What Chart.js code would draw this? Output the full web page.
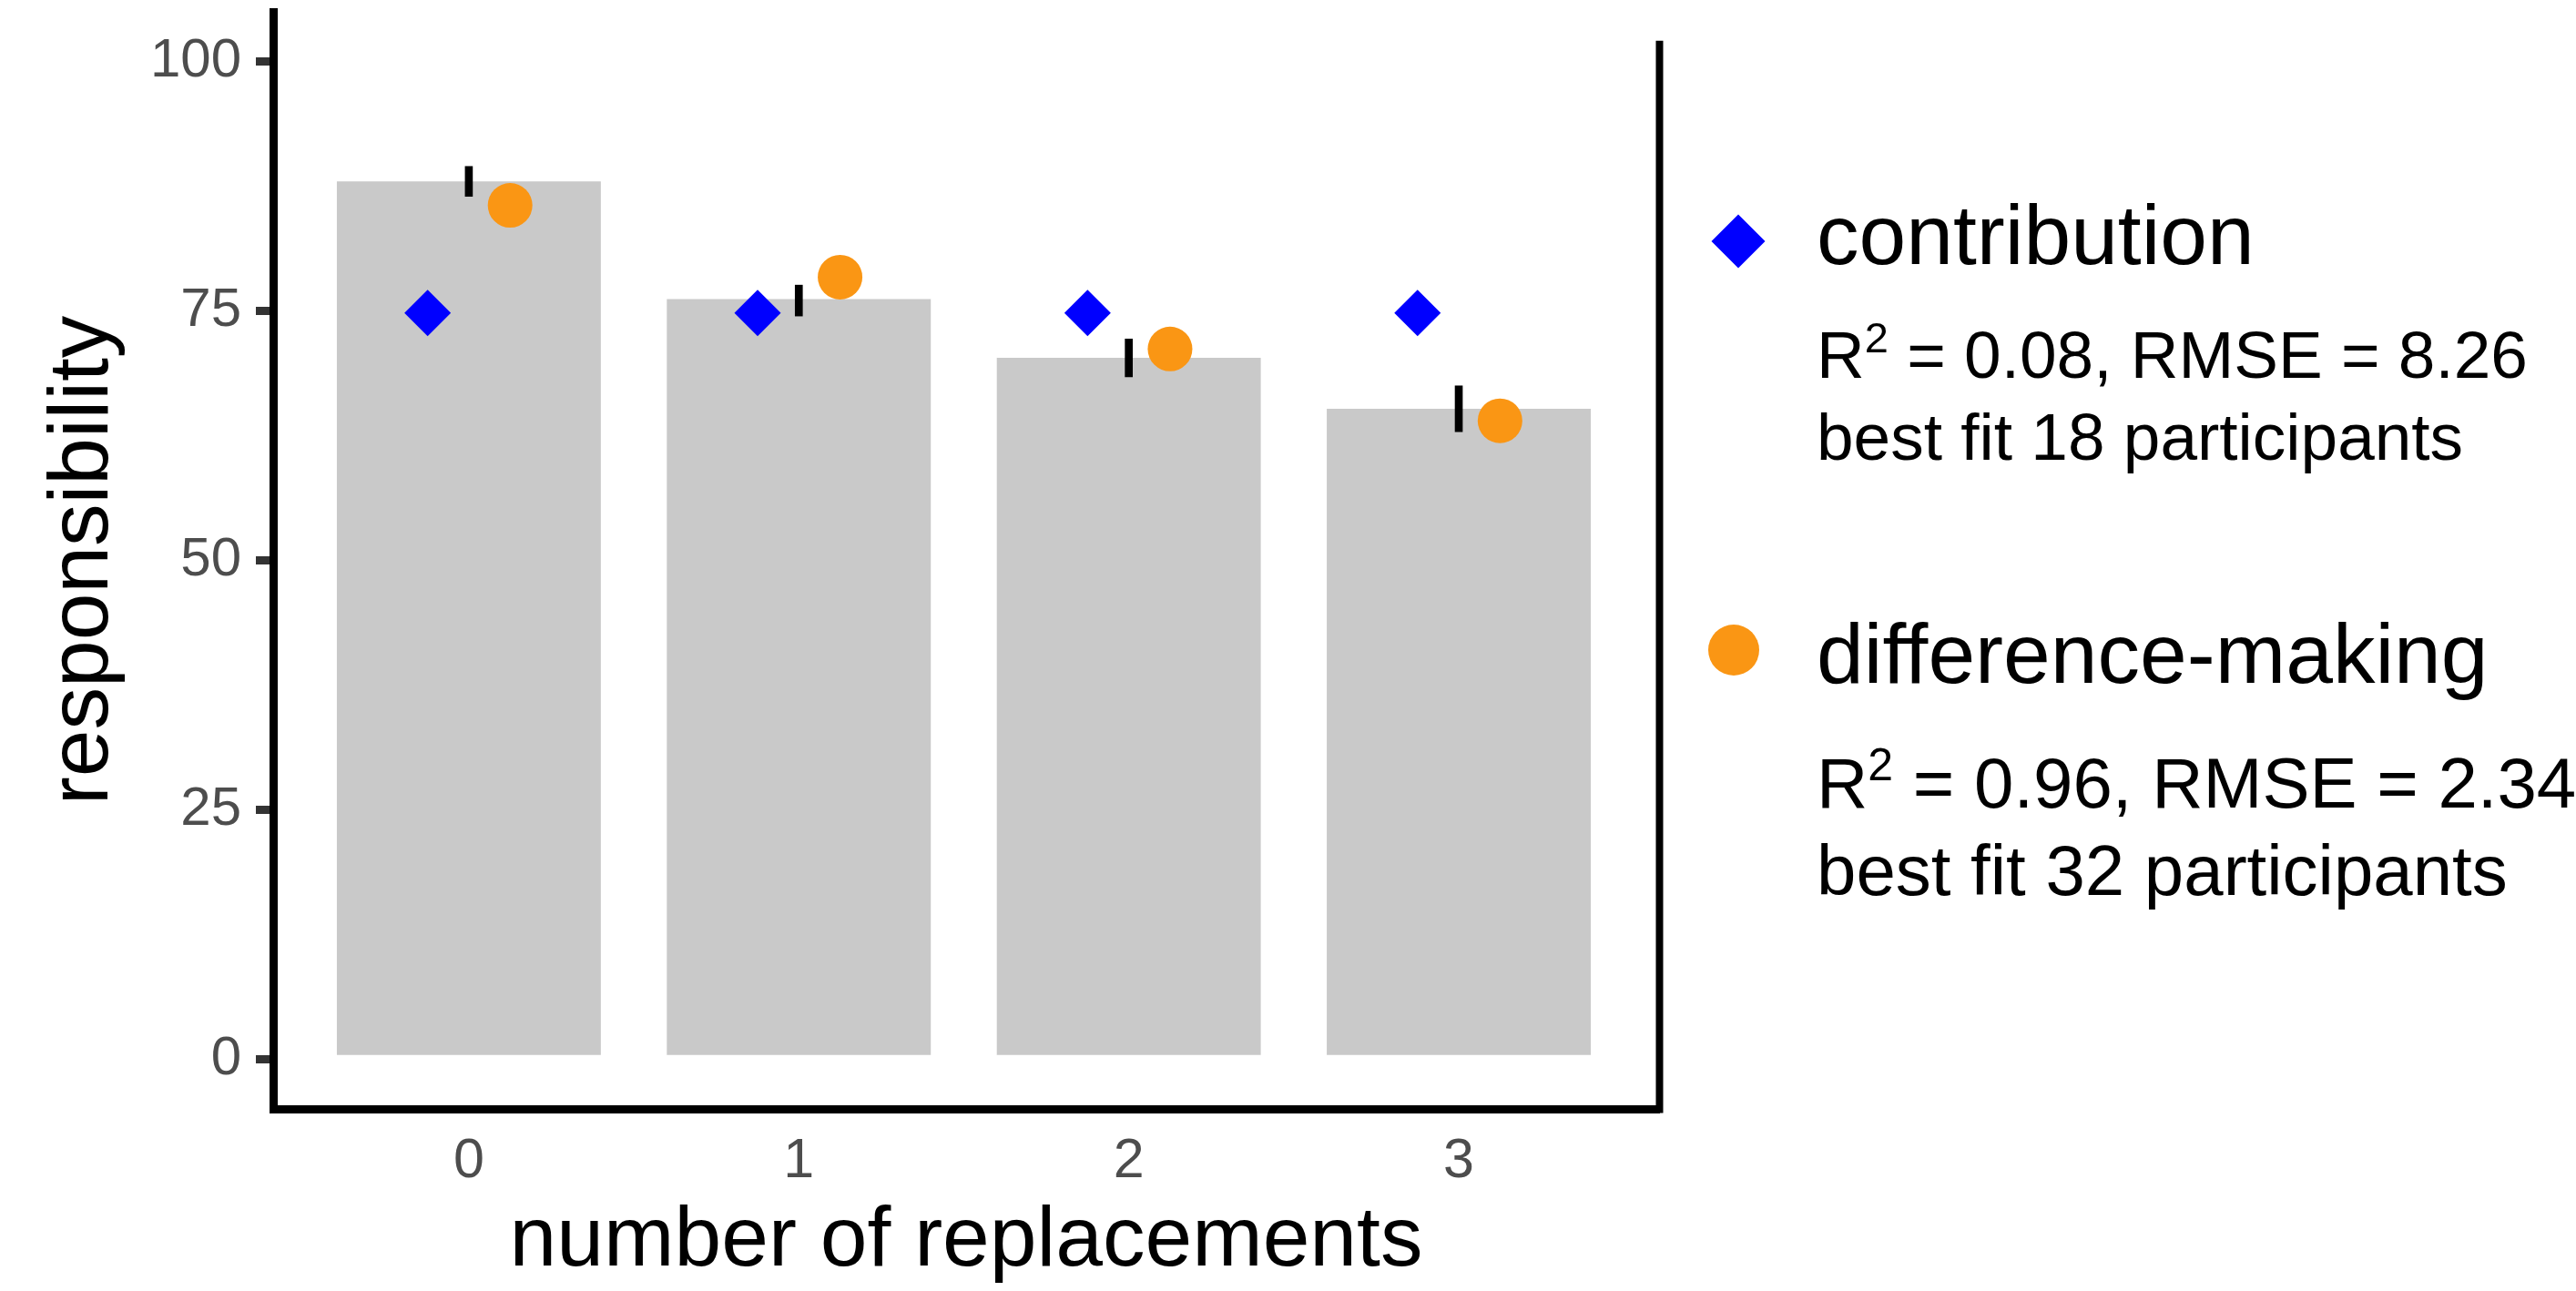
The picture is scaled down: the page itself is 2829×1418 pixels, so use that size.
<!DOCTYPE html>
<html>
<head>
<meta charset="utf-8">
<title>responsibility by number of replacements</title>
<script src="https://cdn.jsdelivr.net/npm/chart.js@4.4.1/dist/chart.umd.min.js"></script>
<style>
  html, body { margin: 0; padding: 0; background: #fff; }
  #wrap { width: 2829px; height: 1418px; position: relative; }
</style>
</head>
<body>
<div id="wrap"><canvas id="chart"></canvas></div>
<script>
// data
const replacements = ['0', '1', '2', '3'];
const meanResponsibility = [88.0, 76.2, 70.3, 65.2];
const errorLow = [86.5, 74.5, 68.4, 62.9];
const errorHigh = [89.5, 77.6, 72.2, 67.5];
const contributionModel = [74.8, 74.8, 74.8, 74.8];
const differenceMakingModel = [85.6, 78.4, 71.2, 64.0];
const yTicks = [0, 25, 50, 75, 100];

const modelNames = ['contribution', 'difference-making'];
const modelR2 = ['0.08', '0.96'];
const modelRmse = ['8.26', '2.34'];
const modelBestFit = [18, 32];

const FONT = "'Liberation Sans', Helvetica, Arial, sans-serif";
const BLUE = '#0000ff';
const ORANGE = '#fa9614';
const BAR_GREY = '#c9c9c9';
const dodge = 0.125;

Chart.defaults.font.family = FONT;

function drawMarker(ctx, kind, x, y, r, color) {
    ctx.save();
    ctx.fillStyle = color;
    ctx.beginPath();
    if (kind === 'diamond') {
        ctx.moveTo(x, y - r);
        ctx.lineTo(x + r, y);
        ctx.lineTo(x, y + r);
        ctx.lineTo(x - r, y);
        ctx.closePath();
    } else {
        ctx.arc(x, y, r, 0, Math.PI * 2);
    }
    ctx.fill();
    ctx.restore();
}

// legend on the right with fit statistics under each model name
const sideLegendPlugin = {
    id: 'sideLegend',
    afterDraw(chart) {
        const ctx = chart.ctx;
        const layout = [
            {marker: 'diamond', color: BLUE, r: 29.5, mx: 1909, my: 265, titleY: 290, statY: 415, fitY: 505, size: 73},
            {marker: 'circle', color: ORANGE, r: 28, mx: 1904, my: 714, titleY: 750, statY: 887, fitY: 983, size: 78},
        ];
        const textX = 1995;
        ctx.save();
        ctx.textAlign = 'left';
        ctx.textBaseline = 'alphabetic';
        ctx.fillStyle = '#000';
        layout.forEach((l, i) => {
            drawMarker(ctx, l.marker, l.mx, l.my, l.r, l.color);
            ctx.font = `93px ${FONT}`;
            ctx.fillText(modelNames[i], textX, l.titleY);

            ctx.font = `${l.size}px ${FONT}`;
            ctx.fillText('R', textX, l.statY);
            let x = textX + ctx.measureText('R').width;
            ctx.font = `${Math.round(l.size * 0.64)}px ${FONT}`;
            ctx.fillText('2', x, l.statY - l.size * 0.39);
            x += ctx.measureText('2').width;
            ctx.font = `${l.size}px ${FONT}`;
            ctx.fillText(` = ${modelR2[i]}, RMSE = ${modelRmse[i]}`, x, l.statY);
            ctx.fillText(`best fit ${modelBestFit[i]} participants`, textX, l.fitY);
        });
        ctx.restore();
    }
};

// partial frame line on the right side of the panel
const rightFramePlugin = {
    id: 'rightFrame',
    afterDraw(chart) {
        const {ctx, chartArea, scales} = chart;
        const topValue = 102.1;
        ctx.save();
        ctx.strokeStyle = '#000';
        ctx.lineWidth = 8;
        ctx.beginPath();
        ctx.moveTo(chartArea.right + 0.5, scales.y.getPixelForValue(topValue));
        ctx.lineTo(chartArea.right + 0.5, chartArea.bottom + 4.5);
        ctx.stroke();
        ctx.restore();
    }
};

function noScalePadding(s) {
    s.paddingTop = 0;
    s.paddingBottom = 0;
    s.paddingLeft = 0;
    s.paddingRight = 0;
}

const ctx = document.getElementById('chart').getContext('2d');

new Chart(ctx, {
    type: 'bar',
    data: {
        datasets: [
            {
                type: 'scatter',
                label: 'contribution',
                data: contributionModel.map((v, i) => ({x: i - dodge, y: v})),
                pointStyle: 'rectRot',
                pointRadius: 25.5,
                pointBackgroundColor: BLUE,
                pointBorderWidth: 0,
                order: 1,
            },
            {
                type: 'scatter',
                label: 'difference-making',
                data: differenceMakingModel.map((v, i) => ({x: i + dodge, y: v})),
                pointStyle: 'circle',
                pointRadius: 24.5,
                pointBackgroundColor: ORANGE,
                pointBorderWidth: 0,
                order: 2,
            },
            {
                label: 'error',
                data: errorLow.map((v, i) => ({x: i, y: [v, errorHigh[i]]})),
                backgroundColor: '#000',
                borderWidth: 0,
                barThickness: 8,
                grouped: false,
                order: 3,
            },
            {
                label: 'mean',
                data: meanResponsibility.map((v, i) => ({x: i, y: v})),
                backgroundColor: BAR_GREY,
                borderWidth: 0,
                categoryPercentage: 1,
                barPercentage: 0.8,
                grouped: false,
                order: 4,
            },
        ]
    },
    options: {
        responsive: true,
        maintainAspectRatio: false,
        animation: false,
        events: [],
        layout: {autoPadding: false, padding: {top: 13, right: 1007, left: 0, bottom: 0}},
        scales: {
            x: {
                type: 'linear',
                min: -0.593,
                max: 3.607,
                offset: false,
                afterBuildTicks: s => { s.ticks = replacements.map((_, i) => ({value: i})); },
                afterFit: s => { s.height = 200; noScalePadding(s); },
                ticks: {
                    callback: v => replacements[v],
                    font: {size: 61},
                    color: '#4d4d4d',
                    padding: 22,
                    autoSkip: false,
                    maxRotation: 0,
                },
                grid: {display: false, drawTicks: false, offset: false},
                border: {display: true, width: 9, color: '#000'},
                title: {
                    display: true,
                    text: 'number of replacements',
                    font: {size: 93, lineHeight: 1},
                    color: '#000',
                    padding: {top: 0, bottom: 7},
                },
            },
            y: {
                min: -5,
                max: 105,
                afterBuildTicks: s => { s.ticks = yTicks.map(v => ({value: v})); },
                afterFit: s => { s.width = 300; noScalePadding(s); },
                ticks: {font: {size: 60}, color: '#4d4d4d', padding: 16},
                grid: {drawOnChartArea: false, drawTicks: true, tickLength: 19, lineWidth: 9, color: '#333333'},
                border: {display: true, width: 9, color: '#000'},
                title: {
                    display: true,
                    text: 'responsibility',
                    font: {size: 93, lineHeight: 1},
                    color: '#000',
                    padding: {top: 46, bottom: 0},
                },
            },
        },
        plugins: {
            legend: {display: false},
            tooltip: {enabled: false},
        }
    },
    plugins: [sideLegendPlugin, rightFramePlugin]
});
</script>
</body>
</html>
